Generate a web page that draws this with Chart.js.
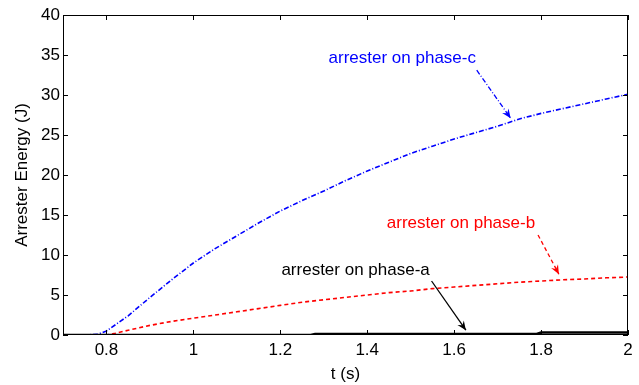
<!DOCTYPE html>
<html>
<head>
<meta charset="utf-8">
<script src="https://cdn.jsdelivr.net/npm/chart.js@4"></script>
<style>
  html, body { margin: 0; padding: 0; background: #fff; }
  #wrap { width: 639px; height: 385px; }
</style>
</head>
<body>
<div id="wrap"><canvas id="myChart" width="639" height="385"></canvas></div>
<script>
// czas (s) i energia w ogranicznikach (J)
const tPhaseC = [0.70, 0.75, 0.78, 0.80, 0.85, 0.90, 0.95, 1.00, 1.05, 1.10, 1.15, 1.20, 1.25, 1.30, 1.35, 1.40, 1.45, 1.50, 1.55, 1.60, 1.65, 1.70, 1.75, 1.80, 1.85, 1.90, 1.95, 2.00];
const ePhaseC = [0, 0, 0.1, 0.5, 2.4, 4.7, 6.9, 9.0, 10.8, 12.4, 14.0, 15.5, 16.8, 18.0, 19.3, 20.5, 21.6, 22.7, 23.6, 24.5, 25.3, 26.1, 27.0, 27.7, 28.3, 28.9, 29.5, 30.1];

const tPhaseB = [0.70, 0.80, 0.82, 0.85, 0.90, 0.95, 1.00, 1.05, 1.10, 1.15, 1.20, 1.25, 1.30, 1.35, 1.40, 1.45, 1.50, 1.55, 1.60, 1.65, 1.70, 1.75, 1.80, 1.85, 1.90, 1.95, 2.00];
const ePhaseB = [0, 0, 0.2, 0.6, 1.2, 1.7, 2.1, 2.5, 2.9, 3.3, 3.7, 4.1, 4.4, 4.7, 5.0, 5.3, 5.5, 5.8, 6.0, 6.2, 6.4, 6.6, 6.75, 6.9, 7.0, 7.15, 7.25];

const tPhaseA = [0.70, 1.00, 1.27, 1.28, 1.50, 1.79, 1.80, 2.00];
const ePhaseA = [0, 0, 0, 0.12, 0.12, 0.12, 0.3, 0.3];

const xTicks = [0.8, 1, 1.2, 1.4, 1.6, 1.8, 2];
const yTicks = [0, 5, 10, 15, 20, 25, 30, 35, 40];

// opisy krzywych ze strzalkami (wspolrzedne w jednostkach osi)
const labels = [
  { text: 'arrester on phase-c', color: '#0000ff', x: 1.311, y: 34.6, from: [1.652, 33.1], to: [1.730, 27.1], dash: [5, 2, 1, 2] },
  { text: 'arrester on phase-b', color: '#ff0000', x: 1.445, y: 13.9, from: [1.793, 12.5], to: [1.841, 7.6], dash: [4, 3] },
  { text: 'arrester on phase-a', color: '#000000', x: 1.2025, y: 8.1, from: [1.548, 6.75], to: [1.627, 0.6], dash: [] }
];

const toXY = (xs, ys) => xs.map((x, i) => ({ x: x, y: ys[i] }));

const FONT = '"Liberation Sans", Arial, sans-serif';
const FS = 17;

// ramka + ticki do srodka jak w matlabie, plus opisy
const matlabBox = {
  id: 'matlabBox',
  afterDraw(chart) {
    const ctx = chart.ctx;
    const a = chart.chartArea;
    const xs = chart.scales.x, ys = chart.scales.y;
    ctx.save();
    ctx.strokeStyle = '#000';
    ctx.lineWidth = 1;
    ctx.strokeRect(a.left + 0.5, a.top + 0.5, a.right - a.left - 1, a.bottom - a.top - 1);
    ctx.beginPath();
    xTicks.forEach(v => {
      const p = Math.round(xs.getPixelForValue(v)) + 0.5;
      ctx.moveTo(p, a.bottom); ctx.lineTo(p, a.bottom - 5);
      ctx.moveTo(p, a.top); ctx.lineTo(p, a.top + 5);
    });
    yTicks.forEach(v => {
      const p = Math.round(ys.getPixelForValue(v)) + 0.5;
      ctx.moveTo(a.left, p); ctx.lineTo(a.left + 5, p);
      ctx.moveTo(a.right, p); ctx.lineTo(a.right - 5, p);
    });
    ctx.stroke();

    labels.forEach(l => {
      ctx.fillStyle = l.color;
      ctx.font = FS + 'px ' + FONT;
      ctx.textBaseline = 'middle';
      ctx.textAlign = 'left';
      ctx.fillText(l.text, xs.getPixelForValue(l.x), ys.getPixelForValue(l.y));

      const x1 = xs.getPixelForValue(l.from[0]), y1 = ys.getPixelForValue(l.from[1]);
      const x2 = xs.getPixelForValue(l.to[0]), y2 = ys.getPixelForValue(l.to[1]);
      ctx.strokeStyle = l.color;
      ctx.lineWidth = 1.3;
      ctx.setLineDash(l.dash);
      ctx.beginPath();
      ctx.moveTo(x1, y1); ctx.lineTo(x2, y2);
      ctx.stroke();
      ctx.setLineDash([]);
      // grot strzalki
      const ang = Math.atan2(y2 - y1, x2 - x1);
      const len = 10, w = 0.4;
      ctx.fillStyle = l.color;
      ctx.beginPath();
      ctx.moveTo(x2, y2);
      ctx.lineTo(x2 - len * Math.cos(ang - w), y2 - len * Math.sin(ang - w));
      ctx.lineTo(x2 - len * 0.6 * Math.cos(ang), y2 - len * 0.6 * Math.sin(ang));
      ctx.lineTo(x2 - len * Math.cos(ang + w), y2 - len * Math.sin(ang + w));
      ctx.closePath();
      ctx.fill();
    });
    ctx.restore();
  }
};

const ctx = document.getElementById('myChart').getContext('2d');
const myChart = new Chart(ctx, {
  type: 'line',
  data: {
    datasets: [
      {
        label: 'phase-a',
        data: toXY(tPhaseA, ePhaseA),
        borderColor: '#000000',
        borderWidth: 2.5,
        pointRadius: 0,
        tension: 0
      },
      {
        label: 'phase-b',
        data: toXY(tPhaseB, ePhaseB),
        borderColor: '#ff0000',
        borderWidth: 1.6,
        borderDash: [4, 3],
        pointRadius: 0,
        tension: 0
      },
      {
        label: 'phase-c',
        data: toXY(tPhaseC, ePhaseC),
        borderColor: '#0000ff',
        borderWidth: 1.6,
        borderDash: [5, 2, 1, 2],
        pointRadius: 0,
        tension: 0
      }
    ]
  },
  options: {
    responsive: false,
    animation: false,
    layout: { padding: { top: 15, right: 11, left: 0, bottom: 0 } },
    plugins: { legend: { display: false }, tooltip: { enabled: false } },
    scales: {
      x: {
        type: 'linear',
        min: 0.7,
        max: 2,
        afterBuildTicks: s => { s.ticks = xTicks.map(v => ({ value: v })); },
        afterFit: s => { s.height = 50; },
        grid: { display: false, drawTicks: false },
        border: { display: false },
        ticks: { color: '#000', padding: 5, font: { family: FONT, size: FS }, maxRotation: 0, autoSkip: false, callback: v => String(v) },
        title: { display: true, text: 't (s)', color: '#000', padding: { top: 0, bottom: 0 }, font: { family: FONT, size: FS } }
      },
      y: {
        min: 0,
        max: 40,
        afterBuildTicks: s => { s.ticks = yTicks.map(v => ({ value: v })); },
        afterFit: s => { s.width = 63; },
        grid: { display: false, drawTicks: false },
        border: { display: false },
        ticks: { color: '#000', padding: 3, font: { family: FONT, size: FS }, callback: v => String(v) },
        title: { display: true, text: 'Arrester Energy (J)', color: '#000', padding: { top: 12, bottom: 0 }, font: { family: FONT, size: FS } }
      }
    }
  },
  plugins: [matlabBox]
});
</script>
</body>
</html>
